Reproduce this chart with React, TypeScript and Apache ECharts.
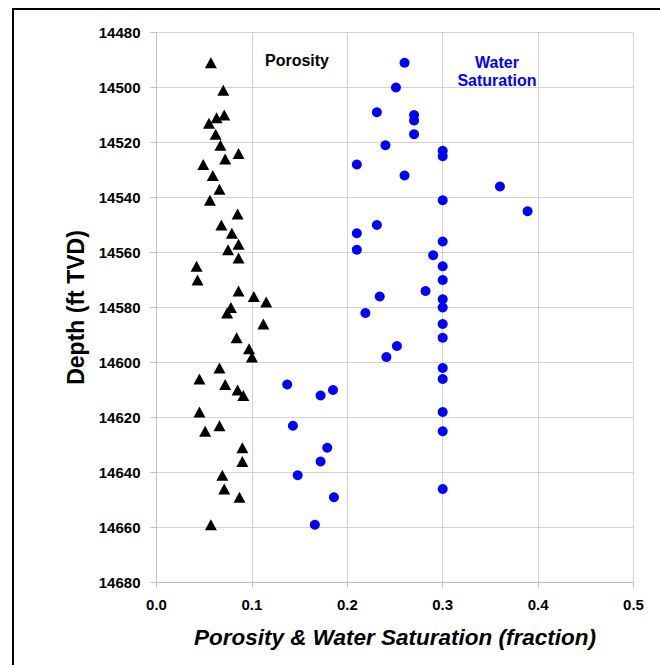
import React, { useEffect, useRef } from "react";
import * as echarts from "echarts";

const xTicks = [0, 0.1, 0.2, 0.3, 0.4, 0.5];
const depthTicks = [14480, 14500, 14520, 14540, 14560, 14580, 14600, 14620, 14640, 14660, 14680];

const porosity = [
  0.057, 0.070, 0.071, 0.063, 0.055, 0.062, 0.067, 0.086, 0.072, 0.049,
  0.059, 0.066, 0.056, 0.085, 0.068, 0.079, 0.086, 0.075, 0.086, 0.042,
  0.043, 0.086, 0.102, 0.115, 0.078, 0.074, 0.112, 0.084, 0.097, 0.100,
  0.066, 0.045, 0.072, 0.085, 0.091, 0.045, 0.066, 0.051, 0.090, 0.090,
  0.069, 0.071, 0.087, 0.057,
];
const porosityDepth = [
  14491, 14501, 14510, 14511, 14513, 14517, 14521, 14524, 14526, 14528,
  14532, 14537, 14541, 14546, 14550, 14553, 14557, 14559, 14562, 14565,
  14570, 14574, 14576, 14578, 14580, 14582, 14586, 14591, 14595, 14598,
  14602, 14606, 14608, 14610, 14612, 14618, 14623, 14625, 14631, 14636,
  14641, 14646, 14649, 14659,
];

const waterSat = [
  0.260, 0.251, 0.231, 0.270, 0.270, 0.270, 0.240, 0.300, 0.300, 0.210,
  0.260, 0.360, 0.300, 0.389, 0.231, 0.210, 0.300, 0.210, 0.290, 0.300,
  0.300, 0.282, 0.234, 0.300, 0.300, 0.219, 0.300, 0.300, 0.252, 0.241,
  0.300, 0.300, 0.137, 0.185, 0.172, 0.300, 0.143, 0.300, 0.179, 0.172,
  0.148, 0.300, 0.186, 0.166,
];
const waterSatDepth = [
  14491, 14500, 14509, 14510, 14512, 14517, 14521, 14523, 14525, 14528,
  14532, 14536, 14541, 14545, 14550, 14553, 14556, 14559, 14561, 14565,
  14570, 14574, 14576, 14577, 14580, 14582, 14586, 14591, 14594, 14598,
  14602, 14606, 14608, 14610, 14612, 14618, 14623, 14625, 14631, 14636,
  14641, 14646, 14649, 14659,
];

const FONT = "'Liberation Sans', Arial, sans-serif";
const BLUE = "#0000ff";

export default function App() {
  const ref = useRef<HTMLDivElement>(null);
  useEffect(() => {
    if (!ref.current) return;
    const chart = echarts.init(ref.current, undefined, { renderer: "svg" });
    const gridColor = "#d3d3d3";
    chart.setOption({
      animation: false,
      backgroundColor: "#ffffff",
      grid: { left: 156.5, right: 26.5, top: 32.5, bottom: 82.5, containLabel: false },
      xAxis: {
        type: "value",
        min: xTicks[0],
        max: xTicks[xTicks.length - 1],
        interval: 0.1,
        name: "Porosity & Water Saturation (fraction)",
        nameLocation: "middle",
        nameGap: 43,
        nameTextStyle: { fontFamily: FONT, fontSize: 22.5, fontWeight: "bold", fontStyle: "italic", color: "#000" },
        axisLine: { show: true, lineStyle: { color: "#bfbfbf", width: 1 } },
        axisTick: { show: true, length: 5, lineStyle: { color: "#bfbfbf" } },
        axisLabel: {
          fontFamily: FONT, fontSize: 15, fontWeight: "bold", color: "#000", margin: 14,
          formatter: (v: number) => v.toFixed(1),
        },
        splitLine: { show: true, lineStyle: { color: gridColor, width: 1 } },
      },
      yAxis: {
        type: "value",
        inverse: true,
        min: depthTicks[0],
        max: depthTicks[depthTicks.length - 1],
        interval: 20,
        name: "Depth (ft TVD)",
        nameLocation: "middle",
        nameGap: 62,
        nameRotate: 90,
        nameTextStyle: { fontFamily: FONT, fontSize: 23, fontWeight: "bold", color: "#000" },
        axisLine: { show: true, lineStyle: { color: "#bfbfbf", width: 1 } },
        axisTick: { show: true, inside: false, length: 6, lineStyle: { color: "#bfbfbf" } },
        axisLabel: {
          fontFamily: FONT, fontSize: 15, fontWeight: "bold", color: "#000", margin: 16,
          formatter: (v: number) => String(v),
        },
        splitLine: { show: true, lineStyle: { color: gridColor, width: 1 } },
      },
      series: [
        {
          name: "Porosity",
          type: "scatter",
          symbol: "triangle",
          symbolSize: [12, 11],
          itemStyle: { color: "#000000", opacity: 1 },
          data: porosity.map((v, i) => [v, porosityDepth[i]]),
        },
        {
          name: "Water Saturation",
          type: "scatter",
          symbol: "circle",
          symbolSize: 10,
          itemStyle: { color: BLUE, opacity: 1 },
          data: waterSat.map((v, i) => [v, waterSatDepth[i]]),
        },
      ],
      graphic: [
        {
          type: "rect",
          shape: { x: 13, y: 9, width: 700, height: 700 },
          style: { fill: "none", stroke: "#000", lineWidth: 2 },
          silent: true,
        },
        {
          type: "text",
          x: 265, y: 60,
          style: { text: "Porosity", fontFamily: FONT, fontSize: 16, fontWeight: "bold", fill: "#000", textVerticalAlign: "middle" },
        },
        {
          type: "text",
          x: 497, y: 62,
          style: { text: "Water", fontFamily: FONT, fontSize: 16, fontWeight: "bold", fill: BLUE, textAlign: "center", textVerticalAlign: "middle" },
        },
        {
          type: "text",
          x: 497, y: 80,
          style: { text: "Saturation", fontFamily: FONT, fontSize: 16, fontWeight: "bold", fill: BLUE, textAlign: "center", textVerticalAlign: "middle" },
        },
      ],
    });
    return () => chart.dispose();
  }, []);
  return <div ref={ref} style={{ position: "fixed", left: 0, top: 0, width: 660, height: 665 }} />;
}
